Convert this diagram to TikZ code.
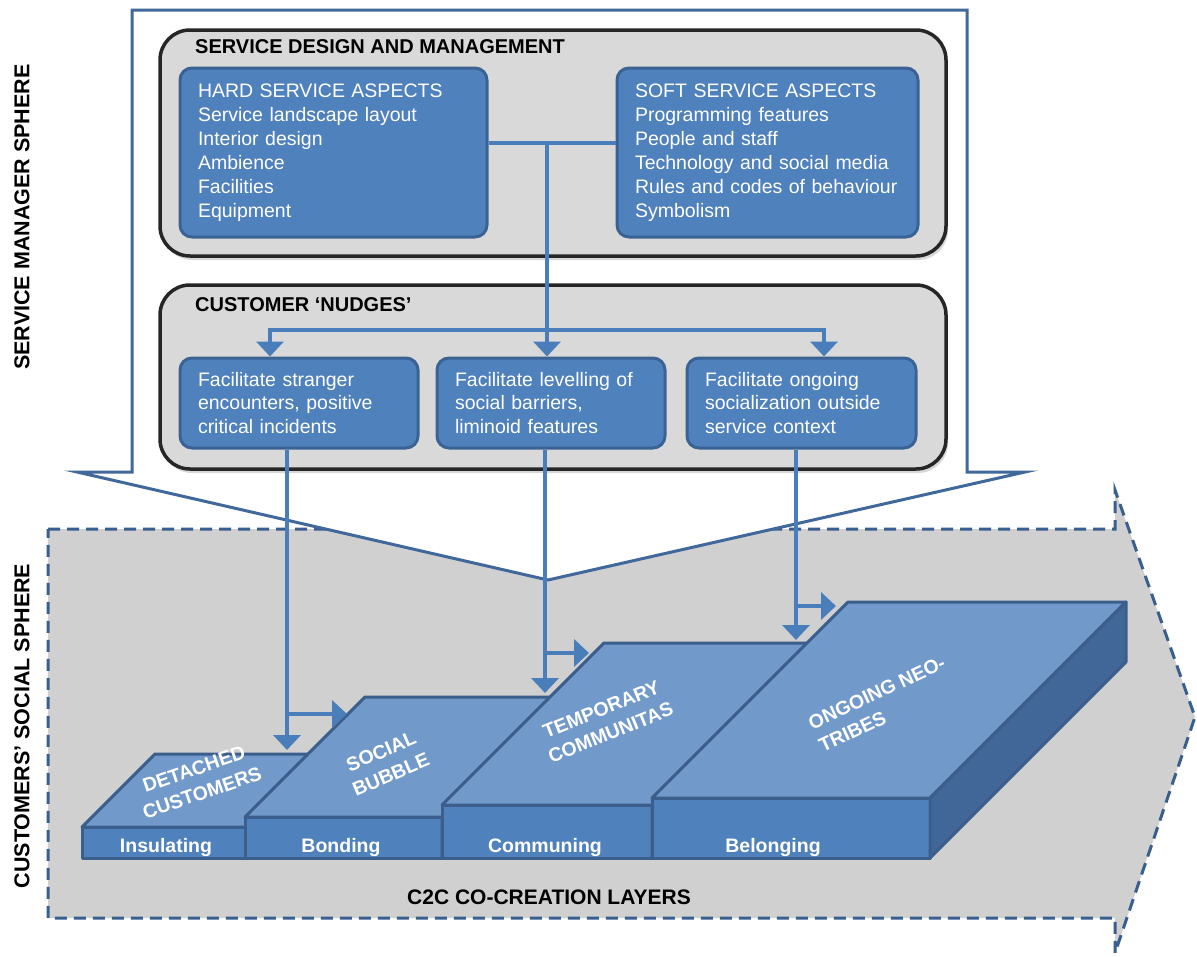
\documentclass[tikz,border=0pt]{standalone}
\usepackage{fontspec}
\setmainfont{Liberation Sans}
\usepackage{xcolor}
\usepackage{tikz}
\usetikzlibrary{positioning,calc,shadows,arrows.meta}

\definecolor{boxblue}{RGB}{79,129,189}
\definecolor{boxedge}{RGB}{58,99,148}
\definecolor{topblue}{RGB}{113,154,203}
\definecolor{sideblue}{RGB}{64,103,152}
\definecolor{blockedge}{RGB}{59,94,140}
\definecolor{flowblue}{RGB}{74,126,187}
\definecolor{frameblue}{RGB}{65,104,155}
\definecolor{dashblue}{RGB}{58,95,142}
\definecolor{panelgray}{RGB}{217,217,217}
\definecolor{spheregray}{RGB}{208,208,208}

\begin{document}
\begin{tikzpicture}[x=1pt, y=-1pt,
    panel/.style={draw=black!85, line width=3.5pt, fill=panelgray, rounded corners=30pt,
        drop shadow={shadow xshift=2pt, shadow yshift=-4pt, opacity=.3}},
    aspect/.style={draw=boxedge, line width=3pt, fill=boxblue, rounded corners=12pt, text=white,
        align=left, inner xsep=18pt, font=\fontsize{19.5}{24}\selectfont},
    nudge/.style={aspect, font=\fontsize{19.5}{23.5}\selectfont},
    paneltitle/.style={anchor=west, inner sep=0pt, font=\bfseries\fontsize{20}{24}\selectfont},
    sphere/.style={rotate=90, font=\bfseries\fontsize{21.5}{24}\selectfont},
    link/.style={draw=flowblue, line width=4.5pt},
    flow/.style={link, -{Triangle[width=27pt,length=15pt]}},
    blockface/.style={draw=blockedge, line width=3pt, line join=round},
    front/.style={text=white, font=\bfseries\fontsize{19.5}{22}\selectfont},
    toplabel/.style={text=white, align=center, inner sep=1pt, font=\bfseries\fontsize{19.5}{25}\selectfont}]

    \fill[white] (0,0) rectangle (1197,956);
    \useasboundingbox (0,0) rectangle (1197,956);

    % Customers' social sphere (dashed arrow shape)
    \filldraw[fill=spheregray, draw=dashblue, line width=3pt, dash pattern=on 12pt off 7pt]
        (48,529) -- (1115,529) -- (1115,490) -- (1195,717) -- (1115,953) -- (1115,918) -- (48,918) -- cycle;

    % Service manager sphere (callout)
    \filldraw[fill=white, draw=frameblue, line width=3pt]
        (132,472) -- (132,10) -- (967,10) -- (967,472) -- (1025,472) -- (548,580) -- (77,472) -- cycle;

    % Side labels
    \node[sphere] (managersphere) at (22,217) {SERVICE MANAGER SPHERE};
    \node[sphere] (socialsphere) at (22,726) {CUSTOMERS’ SOCIAL SPHERE};

    % Service design and management
    \node[panel, minimum width=786pt, minimum height=226pt] (design) at (553,143) {};
    \node[paneltitle] (designtitle) at (195,47) {SERVICE DESIGN AND MANAGEMENT};
    \node[aspect, minimum width=307pt, minimum height=169pt, text width=271pt] (hard) at (333.5,152.5)
        {HARD SERVICE ASPECTS\\Service landscape layout\\Interior design\\Ambience\\Facilities\\Equipment};
    \node[aspect, minimum width=301pt, minimum height=169pt, text width=265pt] (soft) at (767.5,152.5)
        {SOFT SERVICE ASPECTS\\Programming features\\People and staff\\Technology and social media\\Rules and codes of behaviour\\Symbolism};

    % Customer nudges
    \node[panel, minimum width=786pt, minimum height=184pt] (nudges) at (553,377) {};
    \node[paneltitle] (nudgestitle) at (195,305) {CUSTOMER ‘NUDGES’};
    \node[nudge, minimum width=238pt, minimum height=90pt, text width=202pt] (nudgeA) at (299,403)
        {Facilitate stranger\\encounters, positive\\critical incidents};
    \node[nudge, minimum width=228pt, minimum height=90pt, text width=192pt] (nudgeB) at (551,403)
        {Facilitate levelling of\\social barriers,\\liminoid features};
    \node[nudge, minimum width=229pt, minimum height=90pt, text width=193pt] (nudgeC) at (801.5,403)
        {Facilitate ongoing\\socialization outside\\service context};

    % C2C co-creation layers
    \foreach \xl/\xr/\yt/\d in {82/246/827/73, 245/442/817/120, 442/652/805/162, 652/930/798/196} {
        \filldraw[blockface, fill=boxblue] (\xl,\yt) rectangle (\xr,858);
        \filldraw[blockface, fill=topblue] (\xl,\yt) -- ++(\d,-\d) -- ({\xr+\d},{\yt-\d}) -- (\xr,\yt) -- cycle;
        \filldraw[blockface, fill=sideblue] (\xr,\yt) -- ++(\d,-\d) -- ({\xr+\d},{858-\d}) -- (\xr,858) -- cycle;
    }

    \node[front] (insulating) at (166,847) {Insulating};
    \node[front] (bonding) at (341,847) {Bonding};
    \node[front] (communing) at (545,847) {Communing};
    \node[front] (belonging) at (773,847) {Belonging};

    \node[toplabel, rotate=19] (detached) at (198,781) {DETACHED\\CUSTOMERS};
    \node[toplabel, rotate=23] (bubble) at (386,763) {SOCIAL\\BUBBLE};
    \node[toplabel, rotate=22] (communitas) at (606,721) {TEMPORARY\\COMMUNITAS};
    \node[toplabel, rotate=25, align=left] (neotribes) at (882,704) {ONGOING NEO-\\TRIBES};

    \node[font=\bfseries\fontsize{21}{24}\selectfont] (layers) at (549,897) {C2C CO-CREATION LAYERS};

    % Connectors
    \coordinate (hub) at (547,143);
    \coordinate (split) at (547,330);
    \draw[link] (hard.east |- hub) -- (soft.west |- hub);
    \draw[flow] (hub) -- (hub |- nudgeB.north);
    \draw[flow] (split) -| ([xshift=-29pt]nudgeA.north);
    \draw[flow] (split) -| ([xshift=22.5pt]nudgeC.north);

    \coordinate (tipA) at (287,750);
    \coordinate (forkA) at (287,714);
    \coordinate (edgeA) at (347,714);
    \coordinate (tipB) at (545,693);
    \coordinate (forkB) at (545,653);
    \coordinate (edgeB) at (589,653);
    \coordinate (tipC) at (796,640);
    \coordinate (forkC) at (796,606);
    \coordinate (edgeC) at (836,606);
    \draw[flow] (nudgeA.south -| tipA) -- (tipA);
    \draw[flow] (forkA) -- (edgeA);
    \draw[flow] (nudgeB.south -| tipB) -- (tipB);
    \draw[flow] (forkB) -- (edgeB);
    \draw[flow] (nudgeC.south -| tipC) -- (tipC);
    \draw[flow] (forkC) -- (edgeC);
\end{tikzpicture}
\end{document}
